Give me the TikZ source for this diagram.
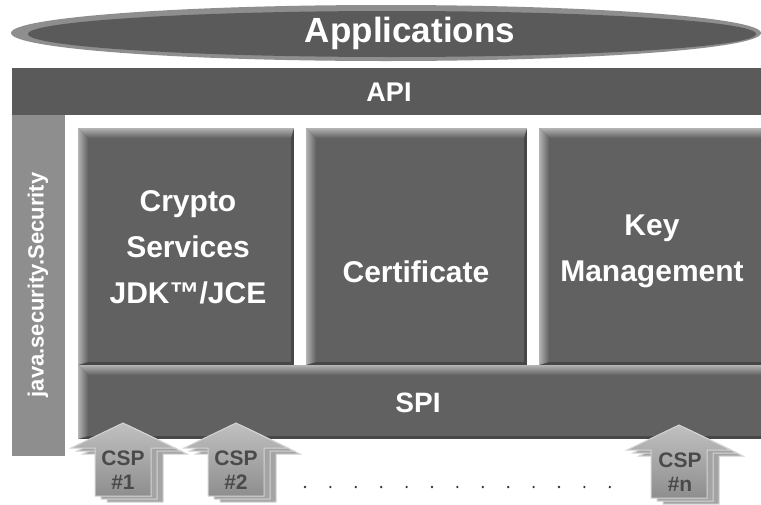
\documentclass[tikz,border=0pt]{standalone}
\usepackage{fontspec}
\setmainfont{Liberation Sans}

\definecolor{barfill}{HTML}{5A5A5A}
\definecolor{boxfill}{HTML}{616161}
\definecolor{bevellight}{HTML}{B4B4B4}
\definecolor{beveldark}{HTML}{474747}
\definecolor{sidefill}{HTML}{8E8E8E}
\definecolor{ringfill}{HTML}{8E8E8E}
\definecolor{csptop}{HTML}{C0C0C0}
\definecolor{cspbottom}{HTML}{8E8E8E}
\definecolor{cspback}{HTML}{A4A4A4}
\definecolor{cspedge}{HTML}{D4D4D4}
\definecolor{csptext}{HTML}{4A4A4A}
\definecolor{dotcol}{HTML}{333333}

% Raised panel: flat fill, light bevel on top and left, dark rim on bottom and right
\newcommand\bevelbox[4]{%
  \fill[boxfill] (#1,#2) rectangle (#3,#4);
  \fill[beveldark] ({#3-3},#2) rectangle (#3,#4);
  \fill[beveldark] (#1,{#4-3}) rectangle (#3,#4);
  \shade[top color=bevellight, bottom color=boxfill]
    (#1,#2) -- (#3,#2) -- ({#3-3},{#2+10}) -- ({#1+10},{#2+10}) -- cycle;
  \shade[left color=bevellight, right color=boxfill]
    (#1,#2) -- ({#1+10},{#2+10}) -- ({#1+10},{#4-3}) -- (#1,#4) -- cycle;
}

\tikzset{
  lbl/.style={text=white, font=\bfseries\fontsize{30}{46}\selectfont, align=center, inner sep=0pt},
  barlbl/.style={text=white, font=\bfseries\fontsize{28}{34}\selectfont, inner sep=0pt},
  csplbl/.style={text=csptext, font=\bfseries\fontsize{21}{24}\selectfont, align=center, inner sep=0pt},
  arrowshape/.style={line width=1pt, draw=cspedge},
  pics/csparrow/.style={code={
    \foreach \d in {12,6} {
      \filldraw[arrowshape, fill=cspback, shift={(\d,\d/2)}]
        (0,0) -- (52,25) -- (28,25) -- (28,73) -- (-28,73) -- (-28,25) -- (-52,25) -- cycle;
    }
    \shade[top color=csptop, bottom color=cspbottom]
      (0,0) -- (52,25) -- (28,25) -- (28,73) -- (-28,73) -- (-28,25) -- (-52,25) -- cycle;
    \draw[arrowshape]
      (0,0) -- (52,25) -- (28,25) -- (28,73) -- (-28,73) -- (-28,25) -- (-52,25) -- cycle;
  }}
}

\begin{document}
\begin{tikzpicture}[x=1pt, y=-1pt]
  \useasboundingbox[fill=white] (0,0) rectangle (761,504);

  % Applications ellipse
  \fill[ringfill] (386,33) ellipse [x radius=375, y radius=28];
  \fill[barfill] (392,34) ellipse [x radius=364, y radius=23];
  \node[text=white, font=\bfseries\fontsize{35}{40}\selectfont, inner sep=0pt] (apps) at (410,33) {Applications};

  % API bar
  \fill[barfill] (12,68) rectangle (761,115);
  \node[barlbl, font=\bfseries\fontsize{27}{32}\selectfont] (api) at (389,92) {API};

  % java.security.Security side bar
  \fill[sidefill] (12,115) rectangle (65,456);
  \node[text=white, font=\bfseries\fontsize{22}{26}\selectfont, rotate=90, inner sep=0pt] (security) at (38,285) {java.security.Security};

  % Engine panels (the last one runs off the right edge)
  \bevelbox{78}{128}{294}{365}
  \bevelbox{306}{128}{527}{365}
  \bevelbox{539}{128}{765}{365}
  \node[lbl] (crypto) at (188,247) {Crypto\\Services\\JDK™/JCE};
  \node[lbl] (cert) at (416,272) {Certificate};
  \node[lbl] (keymgmt) at (652,251) {Key\\Management};

  % SPI bar
  \bevelbox{78}{365}{765}{439}
  \node[barlbl] (spi) at (418,403) {SPI};

  % Provider arrows
  \pic at (123,423) {csparrow};
  \pic at (236,423) {csparrow};
  \pic at (679,425) {csparrow};
  \node[csplbl] (csp1) at (123,470) {CSP\\\#1};
  \node[csplbl] (csp2) at (236,470) {CSP\\\#2};
  \node[csplbl] (cspn) at (680,472) {CSP\\\#n};

  % Ellipsis between providers
  \foreach \k in {0,...,12}
    \fill[dotcol] ({305+25.4*\k},487) circle [radius=1.3];
\end{tikzpicture}
\end{document}
